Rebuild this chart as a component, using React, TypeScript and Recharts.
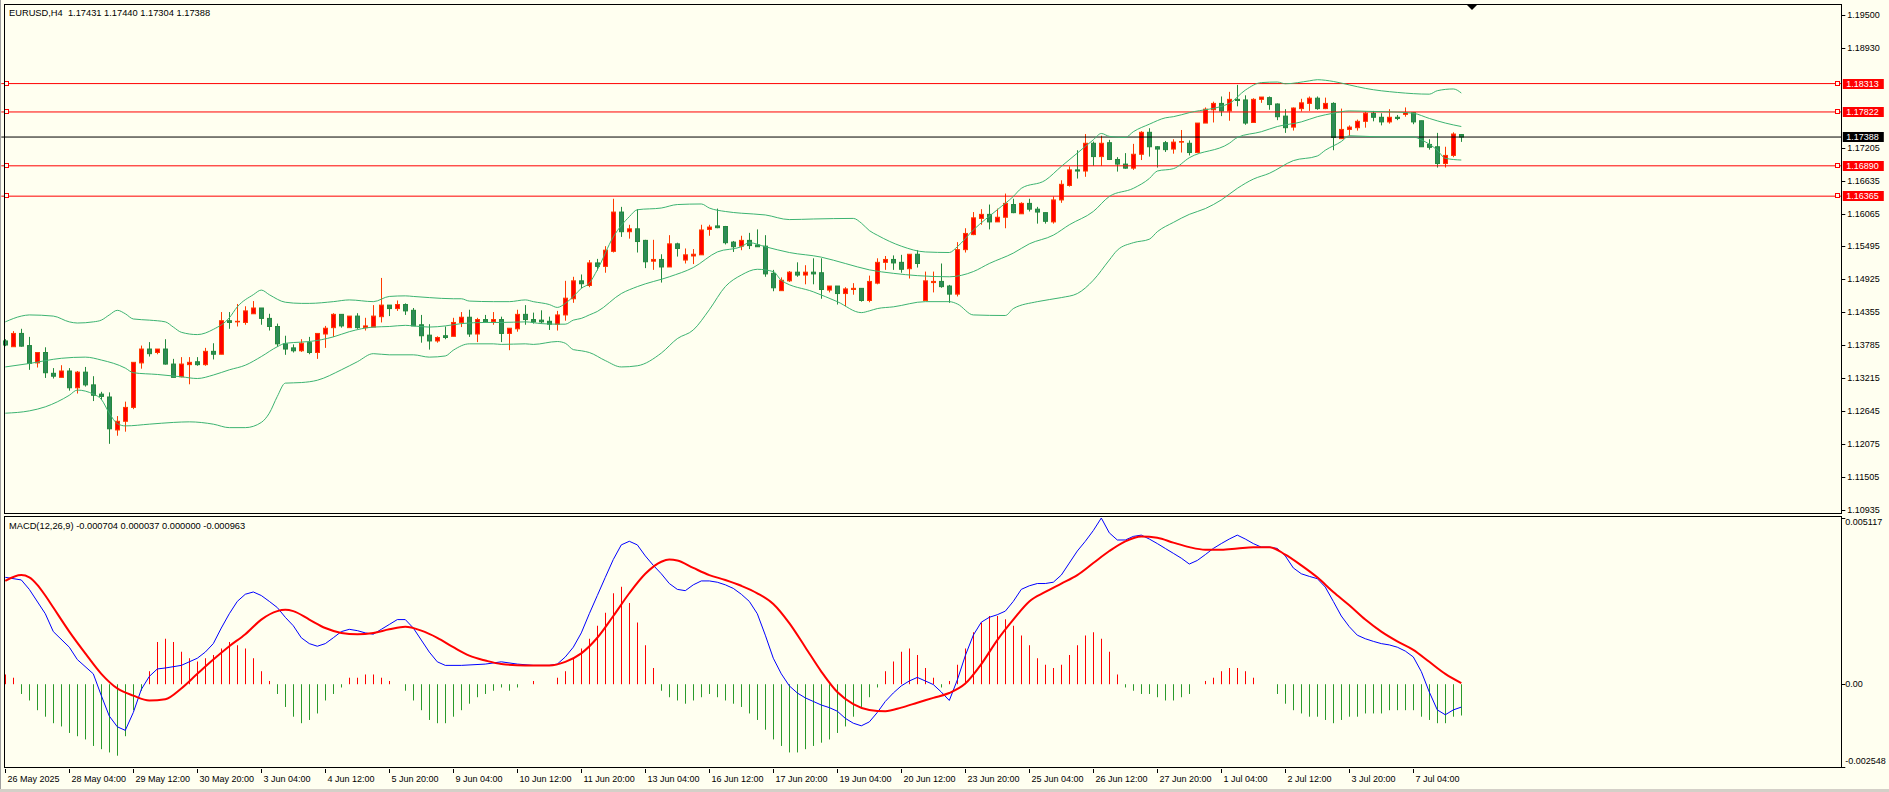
import React from 'react';
import { ComposedChart, Bar, Line, XAxis, YAxis, ReferenceLine } from 'recharts';

// ---------- data ----------
const opens = [
  1.1386, 1.1376, 1.1399, 1.1378, 1.1348, 1.1366, 1.1330, 1.1323, 1.1334, 1.1305,
  1.1332, 1.1310, 1.1294, 1.1289, 1.1232, 1.1247, 1.1271, 1.1348, 1.1372, 1.1366,
  1.1372, 1.1346, 1.1324, 1.1345, 1.1350, 1.1345, 1.1368, 1.1363, 1.1421, 1.1419,
  1.1418, 1.1433, 1.1443, 1.1425, 1.1411, 1.1381, 1.1374, 1.1369, 1.1383, 1.1366,
  1.1398, 1.1409, 1.1432, 1.1409, 1.1429, 1.1409, 1.1410, 1.1428, 1.1448, 1.1442,
  1.1449, 1.1439, 1.1414, 1.1396, 1.1386, 1.1395, 1.1394, 1.1418, 1.1427, 1.1398,
  1.1423, 1.1419, 1.1423, 1.1399, 1.1407, 1.1432, 1.1423, 1.1422, 1.1420, 1.1415,
  1.1431, 1.1459, 1.1490, 1.1482, 1.1521, 1.1515, 1.1541, 1.1609, 1.1575, 1.1580,
  1.1560, 1.1524, 1.1527, 1.1514, 1.1554, 1.1526, 1.1533, 1.1535, 1.1579, 1.1585,
  1.1584, 1.1557, 1.1550, 1.1560, 1.1552, 1.1550, 1.1503, 1.1473, 1.1490, 1.1505,
  1.1500, 1.1505, 1.1504, 1.1474, 1.1481, 1.1468, 1.1475, 1.1477, 1.1456, 1.1486,
  1.1522, 1.1527, 1.1522, 1.1511, 1.1536, 1.1456, 1.1487, 1.1489, 1.1481, 1.1467,
  1.1544, 1.1570, 1.1598, 1.1605, 1.1592, 1.1600, 1.1622, 1.1606, 1.1624, 1.1614,
  1.1608, 1.1592, 1.1630, 1.1655, 1.1682, 1.1680, 1.1728, 1.1705, 1.1729, 1.1700,
  1.1692, 1.1685, 1.1709, 1.1747, 1.1722, 1.1729, 1.1718, 1.1730, 1.1728, 1.1712,
  1.1763, 1.1786, 1.1797, 1.1784, 1.1804, 1.1803, 1.1764, 1.1804, 1.1807, 1.1796,
  1.1775, 1.1756, 1.1788, 1.1797, 1.1806, 1.1788, 1.1797, 1.1736, 1.1752, 1.1755,
  1.1766, 1.1780, 1.1773, 1.1765, 1.1773, 1.1778, 1.1781, 1.1767, 1.1726, 1.1722,
  1.1693, 1.1707, 1.17431,
];
const highs = [
  1.1389, 1.1403, 1.1407, 1.1393, 1.1366, 1.1375, 1.1339, 1.1344, 1.1339, 1.1334,
  1.1341, 1.1325, 1.1298, 1.1297, 1.1256, 1.1281, 1.1349, 1.1378, 1.1384, 1.1372,
  1.1389, 1.1355, 1.1358, 1.1358, 1.1358, 1.1374, 1.1382, 1.1436, 1.1436, 1.1450,
  1.1446, 1.1455, 1.1443, 1.1433, 1.1416, 1.1395, 1.1380, 1.1389, 1.1393, 1.1399,
  1.1412, 1.1434, 1.1432, 1.1429, 1.1434, 1.1426, 1.1448, 1.1495, 1.1448, 1.1456,
  1.1451, 1.1443, 1.1431, 1.1415, 1.1394, 1.1411, 1.1426, 1.1436, 1.1440, 1.1426,
  1.1431, 1.1436, 1.1428, 1.1408, 1.1440, 1.1448, 1.1435, 1.1439, 1.1428, 1.1438,
  1.1490, 1.1497, 1.1501, 1.1526, 1.1528, 1.1550, 1.1632, 1.1618, 1.1587, 1.1614,
  1.1561, 1.1561, 1.1536, 1.1569, 1.1556, 1.1546, 1.1545, 1.1587, 1.1587, 1.1615,
  1.1585, 1.1559, 1.1568, 1.1573, 1.1579, 1.1569, 1.1509, 1.1496, 1.1507, 1.1522,
  1.1517, 1.1529, 1.1529, 1.1481, 1.1481, 1.1479, 1.1486, 1.1477, 1.1499, 1.1529,
  1.1533, 1.1534, 1.1535, 1.1536, 1.1543, 1.1506, 1.1506, 1.1520, 1.1483, 1.1557,
  1.1581, 1.1609, 1.1614, 1.1622, 1.1615, 1.1641, 1.1632, 1.1626, 1.1632, 1.1618,
  1.1608, 1.1636, 1.1664, 1.1688, 1.1716, 1.1744, 1.1731, 1.1741, 1.1734, 1.1704,
  1.1711, 1.1727, 1.1749, 1.1754, 1.1723, 1.1732, 1.1735, 1.1751, 1.1733, 1.1763,
  1.1790, 1.1800, 1.1809, 1.1817, 1.1829, 1.1811, 1.1806, 1.1808, 1.1809, 1.1797,
  1.1787, 1.1790, 1.1805, 1.1809, 1.1809, 1.1807, 1.1799, 1.1788, 1.1759, 1.1769,
  1.1783, 1.1784, 1.1780, 1.1787, 1.1777, 1.1790, 1.1782, 1.1767, 1.1735, 1.1746,
  1.1722, 1.1747, 1.17440,
];
const lows = [
  1.1377, 1.1376, 1.1376, 1.1336, 1.1340, 1.1322, 1.1321, 1.1323, 1.1300, 1.1295,
  1.1307, 1.1282, 1.1284, 1.1208, 1.1222, 1.1229, 1.1268, 1.1338, 1.1359, 1.1363,
  1.1345, 1.1323, 1.1323, 1.1311, 1.1343, 1.1343, 1.1354, 1.1363, 1.1407, 1.1411,
  1.1414, 1.1433, 1.1414, 1.1404, 1.1376, 1.1362, 1.1366, 1.1367, 1.1363, 1.1355,
  1.1374, 1.1393, 1.1409, 1.1409, 1.1407, 1.1404, 1.1410, 1.1418, 1.1429, 1.1438,
  1.1431, 1.1412, 1.1383, 1.1371, 1.1383, 1.1389, 1.1394, 1.1410, 1.1393, 1.1384,
  1.1418, 1.1414, 1.1384, 1.1370, 1.1402, 1.1414, 1.1416, 1.1416, 1.1405, 1.1404,
  1.1421, 1.1452, 1.1477, 1.1479, 1.1508, 1.1504, 1.1539, 1.1566, 1.1563, 1.1539,
  1.1512, 1.1509, 1.1487, 1.1514, 1.1532, 1.1520, 1.1519, 1.1535, 1.1568, 1.1581,
  1.1553, 1.1540, 1.1543, 1.1545, 1.1549, 1.1497, 1.1472, 1.1473, 1.1488, 1.1497,
  1.1484, 1.1484, 1.1459, 1.1470, 1.1449, 1.1446, 1.1466, 1.1454, 1.1453, 1.1484,
  1.1509, 1.1509, 1.1504, 1.1494, 1.1513, 1.1456, 1.1470, 1.1478, 1.1452, 1.1463,
  1.1539, 1.1569, 1.1587, 1.1579, 1.1592, 1.1581, 1.1607, 1.1606, 1.1610, 1.1589,
  1.1589, 1.1589, 1.1625, 1.1653, 1.1667, 1.1670, 1.1689, 1.1689, 1.1699, 1.1679,
  1.1684, 1.1682, 1.1699, 1.1705, 1.1686, 1.1713, 1.1710, 1.1712, 1.1707, 1.1711,
  1.1763, 1.1764, 1.1775, 1.1767, 1.1792, 1.1760, 1.1764, 1.1798, 1.1786, 1.1768,
  1.1746, 1.1750, 1.1783, 1.1784, 1.1786, 1.1787, 1.1716, 1.1736, 1.1741, 1.1750,
  1.1755, 1.1766, 1.1759, 1.1762, 1.1768, 1.1774, 1.1761, 1.1722, 1.1717, 1.1686,
  1.1686, 1.1704, 1.17304,
];
const closes = [
  1.1379, 1.1399, 1.1377, 1.1347, 1.1366, 1.1331, 1.1325, 1.1334, 1.1305, 1.1332,
  1.1310, 1.1292, 1.1290, 1.1234, 1.1247, 1.1271, 1.1349, 1.1372, 1.1364, 1.1372,
  1.1346, 1.1323, 1.1346, 1.1349, 1.1345, 1.1368, 1.1363, 1.1421, 1.1418, 1.1420,
  1.1438, 1.1443, 1.1425, 1.1411, 1.1381, 1.1372, 1.1369, 1.1382, 1.1366, 1.1399,
  1.1408, 1.1432, 1.1412, 1.1429, 1.1409, 1.1412, 1.1429, 1.1448, 1.1442, 1.1449,
  1.1438, 1.1412, 1.1395, 1.1386, 1.1392, 1.1392, 1.1418, 1.1427, 1.1398, 1.1423,
  1.1419, 1.1423, 1.1399, 1.1408, 1.1432, 1.1423, 1.1419, 1.1419, 1.1415, 1.1431,
  1.1460, 1.1490, 1.1485, 1.1521, 1.1515, 1.1543, 1.1609, 1.1575, 1.1580, 1.1558,
  1.1523, 1.1527, 1.1514, 1.1554, 1.1546, 1.1535, 1.1536, 1.1578, 1.1583, 1.1582,
  1.1556, 1.1549, 1.1560, 1.1551, 1.1549, 1.1502, 1.1478, 1.1491, 1.1505, 1.1500,
  1.1505, 1.1502, 1.1475, 1.1481, 1.1468, 1.1476, 1.1477, 1.1456, 1.1489, 1.1522,
  1.1527, 1.1521, 1.1510, 1.1536, 1.1520, 1.1490, 1.1489, 1.1480, 1.1467, 1.1544,
  1.1572, 1.1599, 1.1605, 1.1592, 1.1600, 1.1624, 1.1608, 1.1624, 1.1614, 1.1609,
  1.1593, 1.1630, 1.1657, 1.1682, 1.1680, 1.1728, 1.1705, 1.1728, 1.1700, 1.1692,
  1.1685, 1.1709, 1.1747, 1.1722, 1.1718, 1.1717, 1.1730, 1.1731, 1.1712, 1.1763,
  1.1787, 1.1797, 1.1784, 1.1804, 1.1802, 1.1763, 1.1804, 1.1808, 1.1795, 1.1774,
  1.1755, 1.1789, 1.1798, 1.1806, 1.1788, 1.1797, 1.1738, 1.1752, 1.1756, 1.1766,
  1.1780, 1.1773, 1.1765, 1.1773, 1.1771, 1.1781, 1.1765, 1.1722, 1.1721, 1.1693,
  1.1707, 1.1744, 1.17388,
];

// Bollinger bands: [bar index, price]
const upperBand: [number, number][] = [
  [0, 1.1419], [2, 1.1429], [3, 1.1431], [6, 1.1429], [8, 1.1419], [9, 1.1417], [11, 1.1419],
  [12, 1.1422], [13, 1.1431], [14, 1.1439], [15, 1.1433], [16, 1.1424], [18, 1.1422], [20, 1.1419],
  [21, 1.1410], [22, 1.1401], [24, 1.1397], [26, 1.1406], [28, 1.1426], [29, 1.1445], [31, 1.1466],
  [32, 1.1474], [33, 1.1466], [35, 1.1453], [37, 1.1451], [38, 1.1451], [41, 1.1454], [43, 1.1457],
  [46, 1.1454], [48, 1.1463], [50, 1.1464], [51, 1.1463], [53, 1.1461], [56, 1.1459], [57, 1.1459],
  [58, 1.1455], [61, 1.1454], [63, 1.1454], [65, 1.1457], [66, 1.1454], [68, 1.1449], [69, 1.1444],
  [70, 1.1451], [71, 1.1463], [72, 1.1477], [73, 1.1486], [74, 1.1509], [76, 1.1566], [78, 1.1601],
  [79, 1.1613], [82, 1.1616], [84, 1.1622], [87, 1.1623], [88, 1.1616], [90, 1.1610], [92, 1.1607],
  [95, 1.1604], [98, 1.1596], [101, 1.1597], [106, 1.1598], [107, 1.1590], [108, 1.1577], [109, 1.1569],
  [112, 1.1550], [115, 1.1540], [118, 1.1539], [119, 1.1549], [121, 1.1578], [124, 1.1613], [126, 1.1636],
  [127, 1.1650], [130, 1.1664], [132, 1.1688], [134, 1.1711], [136, 1.1734], [137, 1.1745], [138, 1.1740],
  [140, 1.1738], [141, 1.1748], [143, 1.1761], [145, 1.1772], [146, 1.1774], [148, 1.1781], [153, 1.1797],
  [155, 1.1820], [157, 1.1833], [159, 1.1834], [160, 1.1831], [163, 1.1836], [164, 1.1838], [166, 1.1835],
  [168, 1.1829], [170, 1.1823], [174, 1.1816], [178, 1.1813], [179, 1.1819], [181, 1.1822], [182, 1.1815],
];
const middleBand: [number, number][] = [
  [0, 1.1341], [3, 1.1347], [7, 1.1356], [10, 1.1358], [12, 1.1353], [15, 1.1339], [16, 1.1331],
  [19, 1.1328], [22, 1.1324], [24, 1.1321], [26, 1.1327], [28, 1.1336], [30, 1.1344], [32, 1.1359],
  [34, 1.1376], [35, 1.1382], [37, 1.1384], [38, 1.1385], [41, 1.1393], [43, 1.1402], [46, 1.1410],
  [48, 1.1411], [50, 1.1413], [51, 1.1412], [53, 1.1410], [55, 1.1412], [57, 1.1416], [60, 1.1418],
  [62, 1.1418], [65, 1.1419], [67, 1.1416], [69, 1.1415], [70, 1.1415], [71, 1.1422], [72, 1.1425],
  [73, 1.1431], [74, 1.1437], [77, 1.1468], [79, 1.1480], [83, 1.1497], [86, 1.1513], [89, 1.1540],
  [92, 1.1549], [93, 1.1556], [95, 1.1549], [98, 1.1539], [102, 1.1531], [105, 1.1520], [108, 1.1509],
  [111, 1.1503], [114, 1.1499], [118, 1.1497], [121, 1.1506], [123, 1.1520], [126, 1.1538], [128, 1.1554],
  [131, 1.1569], [133, 1.1587], [136, 1.1610], [138, 1.1636], [141, 1.1650], [143, 1.1667], [144, 1.1680],
  [146, 1.1684], [148, 1.1703], [153, 1.1728], [154, 1.1738], [157, 1.1748], [159, 1.1757], [162, 1.1765],
  [164, 1.1774], [166, 1.1780], [168, 1.1784], [171, 1.1783], [174, 1.1782], [176, 1.1780], [178, 1.1771],
  [180, 1.1763], [182, 1.1757],
];
const lowerBand: [number, number][] = [
  [0, 1.1261], [3, 1.1265], [5, 1.1272], [8, 1.1292], [9, 1.1301], [11, 1.1294], [12, 1.1285],
  [13, 1.1261], [14, 1.1243], [15, 1.1239], [18, 1.1242], [21, 1.1245], [23, 1.1246], [26, 1.1242],
  [28, 1.1236], [30, 1.1236], [32, 1.1245], [33, 1.1261], [34, 1.1290], [35, 1.1313], [37, 1.1314],
  [39, 1.1318], [42, 1.1336], [44, 1.1350], [46, 1.1364], [48, 1.1362], [51, 1.1362], [53, 1.1358],
  [55, 1.1360], [56, 1.1370], [58, 1.1381], [61, 1.1381], [62, 1.1380], [65, 1.1381], [66, 1.1380],
  [69, 1.1385], [70, 1.1382], [71, 1.1371], [72, 1.1369], [73, 1.1366], [75, 1.1352], [77, 1.1341],
  [79, 1.1343], [82, 1.1365], [84, 1.1390], [86, 1.1405], [88, 1.1440], [90, 1.1480], [92, 1.1500],
  [94, 1.1510], [96, 1.1506], [97, 1.1491], [101, 1.1471], [104, 1.1454], [107, 1.1435], [108, 1.1438],
  [109, 1.1442], [111, 1.1445], [115, 1.1454], [118, 1.1454], [119, 1.1450], [121, 1.1431], [125, 1.1430],
  [126, 1.1442], [129, 1.1454], [132, 1.1461], [134, 1.1468], [136, 1.1491], [138, 1.1526], [139, 1.1543],
  [141, 1.1556], [143, 1.1562], [144, 1.1575], [146, 1.1591], [148, 1.1605], [150, 1.1615], [152, 1.1630],
  [154, 1.1650], [156, 1.1666], [158, 1.1676], [161, 1.1698], [164, 1.1706], [165, 1.1716], [167, 1.1731],
  [168, 1.1741], [172, 1.1739], [176, 1.1739], [177, 1.1734], [179, 1.1716], [180, 1.1702], [182, 1.1699],
];

// MACD main line (one reading per bar where visible) and signal line: [bar index, value]
const macdMain: [number, number][] = [
  [0, 0.00329], [2, 0.00321], [3, 0.00292], [5, 0.00217], [6, 0.00162], [8, 0.00114], [9, 0.00076],
  [11, 0.00032], [12, -0.00035], [13, -0.00098], [14, -0.00131], [15, -0.00142], [16, -0.00087],
  [17, -0.00016], [18, 0.00024], [19, 0.00047], [20, 0.0005], [22, 0.00058], [24, 0.0008], [25, 0.00099],
  [26, 0.00125], [27, 0.00173], [28, 0.00217], [29, 0.00255], [30, 0.00277], [31, 0.00284], [32, 0.00273],
  [33, 0.00255], [34, 0.00236], [35, 0.00206], [36, 0.0018], [37, 0.00143], [38, 0.00125], [39, 0.00117],
  [40, 0.00125], [41, 0.00143], [42, 0.00162], [43, 0.00169], [44, 0.00165], [45, 0.00158], [46, 0.00154],
  [47, 0.00169], [48, 0.00184], [49, 0.00199], [50, 0.00199], [51, 0.00173], [52, 0.00136], [53, 0.00099],
  [54, 0.00069], [55, 0.00058], [57, 0.00058], [60, 0.00062], [62, 0.00069], [64, 0.00062], [66, 0.00058],
  [68, 0.00058], [69, 0.00062], [70, 0.00084], [71, 0.00114], [72, 0.00158], [73, 0.00217], [74, 0.00273],
  [75, 0.00329], [76, 0.00384], [77, 0.00429], [78, 0.0044], [79, 0.00429], [80, 0.00395], [81, 0.00366],
  [82, 0.0034], [83, 0.0031], [84, 0.00292], [85, 0.00288], [86, 0.00306], [87, 0.00318], [88, 0.00318],
  [89, 0.00314], [90, 0.00306], [91, 0.00295], [92, 0.00277], [93, 0.00255], [94, 0.00217], [95, 0.00151],
  [96, 0.0008], [97, 0.00032], [98, -0.00005], [99, -0.00027], [100, -0.00042], [101, -0.00053],
  [102, -0.00064], [103, -0.00072], [104, -0.00083], [105, -0.00105], [106, -0.0012], [107, -0.00128],
  [108, -0.00116], [109, -0.00087], [110, -0.00053], [111, -0.00027], [112, -0.00005], [113, 0.0001],
  [114, 0.00021], [115, 0.0001], [116, -0.00001], [117, -0.00024], [118, -0.0005], [119, 0.00013],
  [120, 0.00088], [121, 0.00151], [122, 0.00191], [123, 0.00206], [124, 0.00214], [125, 0.00225],
  [126, 0.00255], [127, 0.00292], [128, 0.00303], [129, 0.0031], [130, 0.0031], [131, 0.00314],
  [132, 0.00336], [133, 0.00373], [134, 0.0041], [135, 0.0044], [136, 0.00473], [137, 0.005117],
  [138, 0.00466], [139, 0.00444], [140, 0.00444], [141, 0.00455], [142, 0.00459], [143, 0.00447],
  [144, 0.00433], [145, 0.00418], [146, 0.00403], [147, 0.00388], [148, 0.0037], [149, 0.00381],
  [150, 0.00399], [151, 0.00418], [152, 0.00433], [153, 0.00447], [154, 0.00459], [155, 0.00447],
  [156, 0.00433], [157, 0.00422], [158, 0.00422], [159, 0.00418], [160, 0.00395], [161, 0.00358],
  [162, 0.0034], [163, 0.00332], [164, 0.00325], [165, 0.00299], [166, 0.00255], [167, 0.0021],
  [168, 0.00177], [169, 0.00151], [170, 0.0014], [171, 0.00132], [172, 0.00125], [173, 0.00121],
  [174, 0.00114], [175, 0.00102], [176, 0.00084], [177, 0.00039], [178, -0.00024], [179, -0.00079],
  [180, -0.00094], [181, -0.00079], [182, -0.000704],
];
const macdSignal: [number, number][] = [
  [0, 0.00318], [2, 0.00336], [3, 0.00329], [4, 0.00306], [5, 0.00273], [6, 0.00236], [8, 0.00162],
  [10, 0.00095], [12, 0.00032], [14, -0.00013], [16, -0.00035], [18, -0.0005], [20, -0.00046],
  [22, -0.00013], [24, 0.00032], [26, 0.00076], [28, 0.00117], [30, 0.00154], [32, 0.00199], [34, 0.00225],
  [35, 0.00229], [36, 0.00225], [38, 0.00199], [40, 0.00173], [42, 0.00158], [44, 0.00154], [46, 0.00158],
  [48, 0.00169], [50, 0.00177], [52, 0.00165], [54, 0.00143], [56, 0.00114], [58, 0.00088], [60, 0.00073],
  [62, 0.00062], [65, 0.00058], [68, 0.00058], [70, 0.00069], [72, 0.00095], [74, 0.00143], [76, 0.0021],
  [78, 0.0028], [80, 0.0034], [82, 0.00377], [83, 0.00384], [84, 0.00381], [86, 0.00358], [88, 0.00336],
  [90, 0.00321], [92, 0.00303], [94, 0.0028], [96, 0.00247], [98, 0.00188], [100, 0.00114], [102, 0.00039],
  [104, -0.00024], [106, -0.00061], [108, -0.00079], [110, -0.00083], [112, -0.00072], [114, -0.00057],
  [116, -0.00042], [118, -0.00027], [120, 0.00002], [122, 0.00062], [124, 0.00136], [126, 0.00199],
  [128, 0.00255], [130, 0.00284], [132, 0.0031], [134, 0.00336], [136, 0.00373], [138, 0.0041],
  [140, 0.0044], [142, 0.00455], [144, 0.00451], [146, 0.00436], [148, 0.00422], [150, 0.00414],
  [152, 0.00414], [154, 0.00418], [156, 0.00422], [158, 0.00422], [160, 0.00399], [162, 0.00366],
  [164, 0.00329], [166, 0.00284], [168, 0.00243], [170, 0.00199], [172, 0.00162], [174, 0.00132],
  [176, 0.00106], [178, 0.00069], [180, 0.00032], [182, 0.000037],
];
const macdHist = [
  0.0003, 0.0002, -0.0003, -0.0005, -0.0008, -0.0010, -0.0012, -0.0013, -0.0015, -0.0016,
  -0.0017, -0.0019, -0.0020, -0.0021, -0.0022, -0.0016, -0.0008, -0.0002, 0.0004, 0.0013,
  0.0014, 0.0013, 0.0010, 0.0008, 0.0007, 0.0008, 0.0009, 0.0011, 0.0013, 0.0012,
  0.0011, 0.0008, 0.0004, 0.0001, -0.0003, -0.0007, -0.0010, -0.0012, -0.0011, -0.0009,
  -0.0005, -0.0003, -0.0001, 0.0002, 0.0002, 0.0003, 0.0003, 0.0002, 0.0001, 0.0000,
  -0.0002, -0.0005, -0.0008, -0.0011, -0.0012, -0.0012, -0.0010, -0.0008, -0.0006, -0.0004,
  -0.0003, -0.0002, -0.0001, -0.0002, -0.0001, 0.0000, 0.0001, 0.0000, 0.0000, 0.0002,
  0.0004, 0.0008, 0.0011, 0.0014, 0.0018, 0.0022, 0.0028, 0.0030, 0.0025, 0.0019,
  0.0012, 0.0005, -0.0002, -0.0004, -0.0005, -0.0006, -0.0005, -0.0004, -0.0003, -0.0004,
  -0.0005, -0.0006, -0.0007, -0.0009, -0.0011, -0.0014, -0.0017, -0.0019, -0.0021, -0.0021,
  -0.0020, -0.0019, -0.0018, -0.0017, -0.0015, -0.0013, -0.0010, -0.0007, -0.0004, -0.0001,
  0.0004, 0.0007, 0.0010, 0.0011, 0.0009, 0.0005, 0.0002, -0.0001, 0.0001, 0.0006,
  0.0011, 0.0016, 0.0019, 0.0021, 0.0021, 0.0020, 0.0018, 0.0015, 0.0012, 0.0008,
  0.0006, 0.0005, 0.0006, 0.0009, 0.0012, 0.0015, 0.0016, 0.0014, 0.0010, 0.0003,
  -0.0001, -0.0002, -0.0003, -0.0003, -0.0004, -0.0005, -0.0005, -0.0004, -0.0003, 0.0000,
  0.0001, 0.0002, 0.0004, 0.0005, 0.0005, 0.0004, 0.0002, 0.0000, 0.0000, -0.0003,
  -0.0006, -0.0008, -0.0009, -0.0010, -0.0010, -0.0011, -0.0012, -0.0011, -0.0010, -0.0010,
  -0.0009, -0.0009, -0.0009, -0.0008, -0.0008, -0.0008, -0.0008, -0.0010, -0.0011, -0.0012,
  -0.0012, -0.0010, -0.000963,
];

const timeLabels = [
  '26 May 2025', '28 May 04:00', '29 May 12:00', '30 May 20:00', '3 Jun 04:00', '4 Jun 12:00',
  '5 Jun 20:00', '9 Jun 04:00', '10 Jun 12:00', '11 Jun 20:00', '13 Jun 04:00', '16 Jun 12:00',
  '17 Jun 20:00', '19 Jun 04:00', '20 Jun 12:00', '23 Jun 20:00', '25 Jun 04:00', '26 Jun 12:00',
  '27 Jun 20:00', '1 Jul 04:00', '2 Jul 12:00', '3 Jul 20:00', '7 Jul 04:00',
];
const timeLabelBars = timeLabels.map((_, k) => k * 8);

const priceTicks = [
  1.195, 1.1893, 1.17205, 1.16635, 1.16065, 1.15495, 1.14925, 1.14355, 1.13785,
  1.13215, 1.12645, 1.12075, 1.11505, 1.10935,
];
const levelLines = [1.18313, 1.17822, 1.1689, 1.16365];
const lastPrice = 1.17388;
const macdTicks = [0.005117, 0, -0.002548];
const macdTickText = ['0.005117', '0.00', '-0.002548'];

const TOTAL_SLOTS = 230;

// ---------- build rows ----------
const rows: any[] = Array.from({ length: TOTAL_SLOTS }, (_, i) => {
  const r: any = { i };
  if (i < opens.length) {
    r.o = opens[i];
    r.h = highs[i];
    r.l = lows[i];
    r.c = closes[i];
    r.range = [lows[i], highs[i]];
    r.hist = macdHist[i];
  }
  return r;
});
upperBand.forEach(([i, v]) => (rows[i].upper = v));
middleBand.forEach(([i, v]) => (rows[i].middle = v));
lowerBand.forEach(([i, v]) => (rows[i].lower = v));
macdMain.forEach(([i, v]) => (rows[i].macd = v));
macdSignal.forEach(([i, v]) => (rows[i].signal = v));

// ---------- styling ----------
const BG = '#FFFFF0';
const FONT = '"Liberation Sans", Arial, sans-serif';
const BULL_FILL = '#FF0000';
const BULL_LINE = '#FF3A00';
const BEAR_FILL = '#2E8B57';
const BEAR_LINE = '#23893D';
const BAND = '#3CB371';

const W = 1889;
const PLOT_LEFT = 1.3;
const AXIS_W = 47.7;

const CandleShape = (props: any) => {
  const { x, y, width, height, payload } = props;
  if (!payload || payload.o == null) return null;
  const { o, h, l, c } = payload;
  const top = Math.min(y, y + height);
  const span = Math.abs(height);
  const k = h - l > 0 ? span / (h - l) : 0;
  const py = (v: number) => top + (h - v) * k;
  const cx = Math.round(x + width / 2) + 0.5;
  const up = c >= o;
  const bTop = py(Math.max(o, c));
  const bBot = py(Math.min(o, c));
  const bh = Math.max(bBot - bTop, 0.5);
  const line = up ? BULL_LINE : BEAR_LINE;
  return (
    <g>
      <line x1={cx} x2={cx} y1={top} y2={top + span} stroke={line} strokeWidth={1} />
      <rect x={cx - 2} y={bTop} width={4} height={bh} fill={up ? BULL_FILL : BEAR_FILL} stroke={line} strokeWidth={1} />
    </g>
  );
};

const HistShape = (props: any) => {
  const { x, y, width, height, payload } = props;
  if (!payload || payload.hist == null) return null;
  const top = Math.min(y, y + height);
  const bot = Math.max(y, y + height);
  const cx = Math.round(x + width / 2) + 0.5;
  return (
    <line x1={cx} x2={cx} y1={top} y2={bot} stroke={payload.hist >= 0 ? '#FF0000' : '#2A9A2A'} strokeWidth={1} />
  );
};

const PriceTick = (props: any) => {
  const { x, y, payload } = props;
  return (
    <g>
      <line x1={x} x2={x + 4} y1={Math.round(y) + 0.5} y2={Math.round(y) + 0.5} stroke="#000" />
      <text x={x + 6} y={y} dominantBaseline="central" fontSize={9} fontFamily={FONT} fill="#000">
        {Number(payload.value).toFixed(5)}
      </text>
    </g>
  );
};

const MacdTick = (props: any) => {
  const { x, y, payload, index } = props;
  const v = payload.value;
  const k = macdTicks.indexOf(v);
  const dy = v === macdTicks[0] ? 4 : v === macdTicks[2] ? -6 : 0;
  return (
    <g>
      <line x1={x} x2={x + 4} y1={Math.round(y) + 0.5} y2={Math.round(y) + 0.5} stroke="#000" />
      <text x={x + 4} y={y + dy} dominantBaseline="central" fontSize={9} fontFamily={FONT} fill="#000">
        {macdTickText[k >= 0 ? k : index]}
      </text>
    </g>
  );
};

const TimeTick = (props: any) => {
  const { x, y, payload } = props;
  const k = timeLabelBars.indexOf(Number(payload.value));
  const tx = Math.round(x) + 0.5;
  return (
    <g>
      <line x1={tx} x2={tx} y1={y + 2} y2={y + 6} stroke="#000" />
      <text x={tx + 2} y={y + 12} dominantBaseline="central" fontSize={9} fontFamily={FONT} fill="#000">
        {k >= 0 ? timeLabels[k] : ''}
      </text>
    </g>
  );
};

const LevelLabel = (props: any) => {
  const { viewBox, price, bg, markers } = props;
  if (!viewBox) return null;
  const { x, y, width } = viewBox;
  const right = x + width;
  const yy = Math.round(y);
  return (
    <g>
      {markers && (
        <>
          <rect x={Math.round(x) + 3.5} y={yy - 2.5} width={4} height={4} fill={BG} stroke="#FF0000" strokeWidth={1} />
          <rect x={Math.round(right) - 5.5} y={yy - 2.5} width={4} height={4} fill={BG} stroke="#FF0000" strokeWidth={1} />
        </>
      )}
      <rect x={right + 1.5} y={yy - 5} width={41} height={10} fill={bg} />
      <text x={right + 5} y={yy} dominantBaseline="central" fontSize={9} fontFamily={FONT} fill="#FFFFFF">
        {price.toFixed(5)}
      </text>
    </g>
  );
};

export default function App() {
  return (
    <div style={{ position: 'absolute', left: 0, top: 0, width: W, height: 792, background: BG, overflow: 'hidden' }}>
      {/* price panel */}
      <div style={{ position: 'absolute', left: 0, top: 0 }}>
        <ComposedChart
          width={W}
          height={516}
          data={rows}
          margin={{ top: 4, right: 0, left: PLOT_LEFT, bottom: 3 }}
        >
          <XAxis dataKey="i" hide />
          <YAxis
            orientation="right"
            type="number"
            domain={[1.10883, 1.1969]}
            allowDataOverflow
            ticks={priceTicks}
            interval={0}
            width={AXIS_W}
            axisLine={false}
            tickLine={false}
            tickSize={0}
            tickMargin={0}
            tick={<PriceTick />}
          />
          {levelLines.map((v) => (
            <ReferenceLine
              key={v}
              y={v}
              stroke="#FF0000"
              strokeWidth={1}
              label={<LevelLabel price={v} bg="#FF0000" markers />}
            />
          ))}
          <ReferenceLine y={lastPrice} stroke="#000000" strokeWidth={1} label={<LevelLabel price={lastPrice} bg="#000000" />} />
          <Line type="monotone" dataKey="upper" stroke={BAND} strokeWidth={1} dot={false} activeDot={false} connectNulls isAnimationActive={false} />
          <Line type="monotone" dataKey="middle" stroke={BAND} strokeWidth={1} dot={false} activeDot={false} connectNulls isAnimationActive={false} />
          <Line type="monotone" dataKey="lower" stroke={BAND} strokeWidth={1} dot={false} activeDot={false} connectNulls isAnimationActive={false} />
          <Bar dataKey="range" shape={(p: any) => <CandleShape {...p} />} isAnimationActive={false} />
        </ComposedChart>
      </div>

      {/* MACD panel */}
      <div style={{ position: 'absolute', left: 0, top: 516 }}>
        <ComposedChart
          width={W}
          height={276}
          data={rows}
          margin={{ top: 2, right: 0, left: PLOT_LEFT, bottom: 0 }}
        >
          <XAxis
            dataKey="i"
            ticks={timeLabelBars}
            interval={0}
            height={25}
            axisLine={false}
            tickLine={false}
            tickSize={0}
            tickMargin={0}
            tick={<TimeTick />}
          />
          <YAxis
            orientation="right"
            type="number"
            domain={[-0.002548, 0.005117]}
            allowDataOverflow
            ticks={macdTicks}
            interval={0}
            width={AXIS_W}
            axisLine={false}
            tickLine={false}
            tickSize={0}
            tickMargin={0}
            tick={<MacdTick />}
          />
          <Bar dataKey="hist" shape={(p: any) => <HistShape {...p} />} isAnimationActive={false} />
          <Line type="linear" dataKey="macd" stroke="#0000FF" strokeWidth={1} dot={false} activeDot={false} connectNulls isAnimationActive={false} />
          <Line type="monotone" dataKey="signal" stroke="#FF0000" strokeWidth={2} dot={false} activeDot={false} connectNulls isAnimationActive={false} />
        </ComposedChart>
      </div>

      {/* frames and captions */}
      <svg width={W} height={792} style={{ position: 'absolute', left: 0, top: 0, pointerEvents: 'none' }}>
        <line x1={0.5} x2={0.5} y1={0} y2={792} stroke="#A0A0A0" />
        <rect x={0} y={789} width={W} height={3} fill="#D4D0C8" />
        <rect x={4.5} y={4.5} width={1837} height={509} fill="none" stroke="#000" />
        <rect x={4.5} y={516.5} width={1837} height={251} fill="none" stroke="#000" />
        <polygon points="1467,5 1477,5 1472,10" fill="#000" />
        <text x={9} y={13} dominantBaseline="central" fontSize={9.3} fontFamily={FONT} fill="#000" style={{ whiteSpace: 'pre' }}>
          {'EURUSD,H4  1.17431 1.17440 1.17304 1.17388'}
        </text>
        <text x={9} y={526} dominantBaseline="central" fontSize={9.3} fontFamily={FONT} fill="#000" style={{ whiteSpace: 'pre' }}>
          {'MACD(12,26,9) -0.000704 0.000037 0.000000 -0.000963'}
        </text>
      </svg>
    </div>
  );
}
